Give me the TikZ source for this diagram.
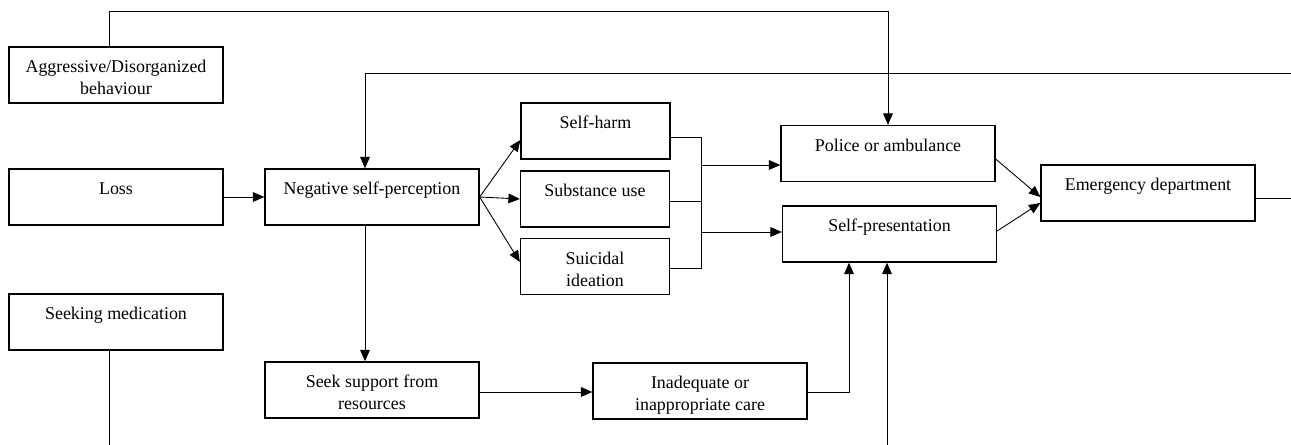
\documentclass[tikz,border=0pt]{standalone}
\usepackage{fontspec}
\setmainfont{Liberation Serif}
\usetikzlibrary{positioning, arrows.meta}

% box text, lowered a little
\newcommand{\boxtext}[1]{\raisebox{-2.5pt}[\height][\depth]{\begin{tabular}{@{}c@{}}#1\end{tabular}}}

\begin{document}
\begin{tikzpicture}[x=0.02cm, y=-0.02cm, >={Triangle[length=6.5pt, width=5.5pt]},
    box/.style={draw, line width=0.75pt, minimum height=1.12cm, inner sep=0pt, font=\fontsize{10.2}{12.5}\selectfont},
    wide/.style={box, minimum width=4.28cm},
    narrow/.style={box, minimum width=2.98cm},
    link/.style={line width=0.5pt}]
        \useasboundingbox (0,0) rectangle (1291,445);

        % Left column
        \node[wide] (aggr) at (116,75) {\boxtext{Aggressive/Disorganized\\behaviour}};
        \node[wide] (loss) at (116,197) {\boxtext{Loss\\\mbox{}}};
        \node[wide] (seekmed) at (116,322) {\boxtext{Seeking medication\\\mbox{}}};

        % Middle
        \node[wide] (negself) at (372,197) {\boxtext{Negative self-perception\\\mbox{}}};
        \node[wide] (seeksup) at (372,390) {\boxtext{Seek support from\\resources}};
        \node[narrow] (selfharm) at (595.5,131) {\boxtext{Self-harm\\\mbox{}}};
        \node[narrow] (subst) at (595,199) {\boxtext{Substance use\\\mbox{}}};
        \node[narrow] (suicid) at (595,266.5) {\boxtext{Suicidal\\ideation}};
        \node[wide] (inadeq) at (700,391) {\boxtext{Inadequate or\\inappropriate care}};

        % Right
        \node[wide] (police) at (888,153.5) {\boxtext{Police or ambulance\\\mbox{}}};
        \node[wide] (selfpres) at (889.5,234) {\boxtext{Self-presentation\\\mbox{}}};
        \node[wide] (emerg) at (1148,193) {\boxtext{Emergency department\\\mbox{}}};

        % Bends and free ends
        \coordinate (topbend) at (109,11);
        \coordinate (loopin) at (1291,73);
        \coordinate (loopbend) at (365,73);
        \coordinate (jtop) at (701,137);
        \coordinate (jmid) at (701,201);
        \coordinate (jbot) at (701,268);
        \coordinate (jpol) at (701,165);
        \coordinate (jpres) at (701,232);
        \coordinate (carebend) at (849,392);
        \coordinate (presin) at (887,445);
        \coordinate (medout) at (109,445);
        \coordinate (emergout) at (1291,198);

        % Long loops
        \draw[link, ->] (aggr.north -| topbend) -- (topbend) -| (police.north);
        \draw[link, ->] (loopin) -- (loopbend) -- (negself.north -| loopbend);
        \draw[link] (seekmed.south -| medout) -- (medout);
        \draw[link] (emerg.east |- emergout) -- (emergout);

        % Into and out of negative self-perception
        \draw[link, ->] (loss.east) -- (negself.west);
        \draw[link, ->] (negself.east) -- ([yshift=-0.18cm]selfharm.west);
        \draw[link, ->] (negself.east) -- (subst.west);
        \draw[link, ->] (negself.east) -- ([yshift=0.09cm]suicid.west);
        \draw[link, ->] (negself.south -| loopbend) -- (seeksup.north -| loopbend);

        % Junction
        \draw[link] (selfharm.east |- jtop) -- (jtop) -- (jbot) -- (suicid.east |- jbot);
        \draw[link] (subst.east |- jmid) -- (jmid);
        \draw[link, ->] (jpol) -- (police.west |- jpol);
        \draw[link, ->] (jpres) -- (selfpres.west |- jpres);

        % Care path
        \draw[link, ->] (seeksup.east |- carebend) -- (inadeq.west |- carebend);
        \draw[link, ->] (inadeq.east |- carebend) -- (carebend) -- (selfpres.south -| carebend);
        \draw[link, ->] (presin) -- (selfpres.south -| presin);

        % To emergency
        \draw[link, ->] ([yshift=-0.11cm]police.east) -- ([yshift=-0.08cm]emerg.west);
        \draw[link, ->] ([yshift=0.06cm]selfpres.east) -- ([yshift=-0.2cm]emerg.west);
\end{tikzpicture}
\end{document}
